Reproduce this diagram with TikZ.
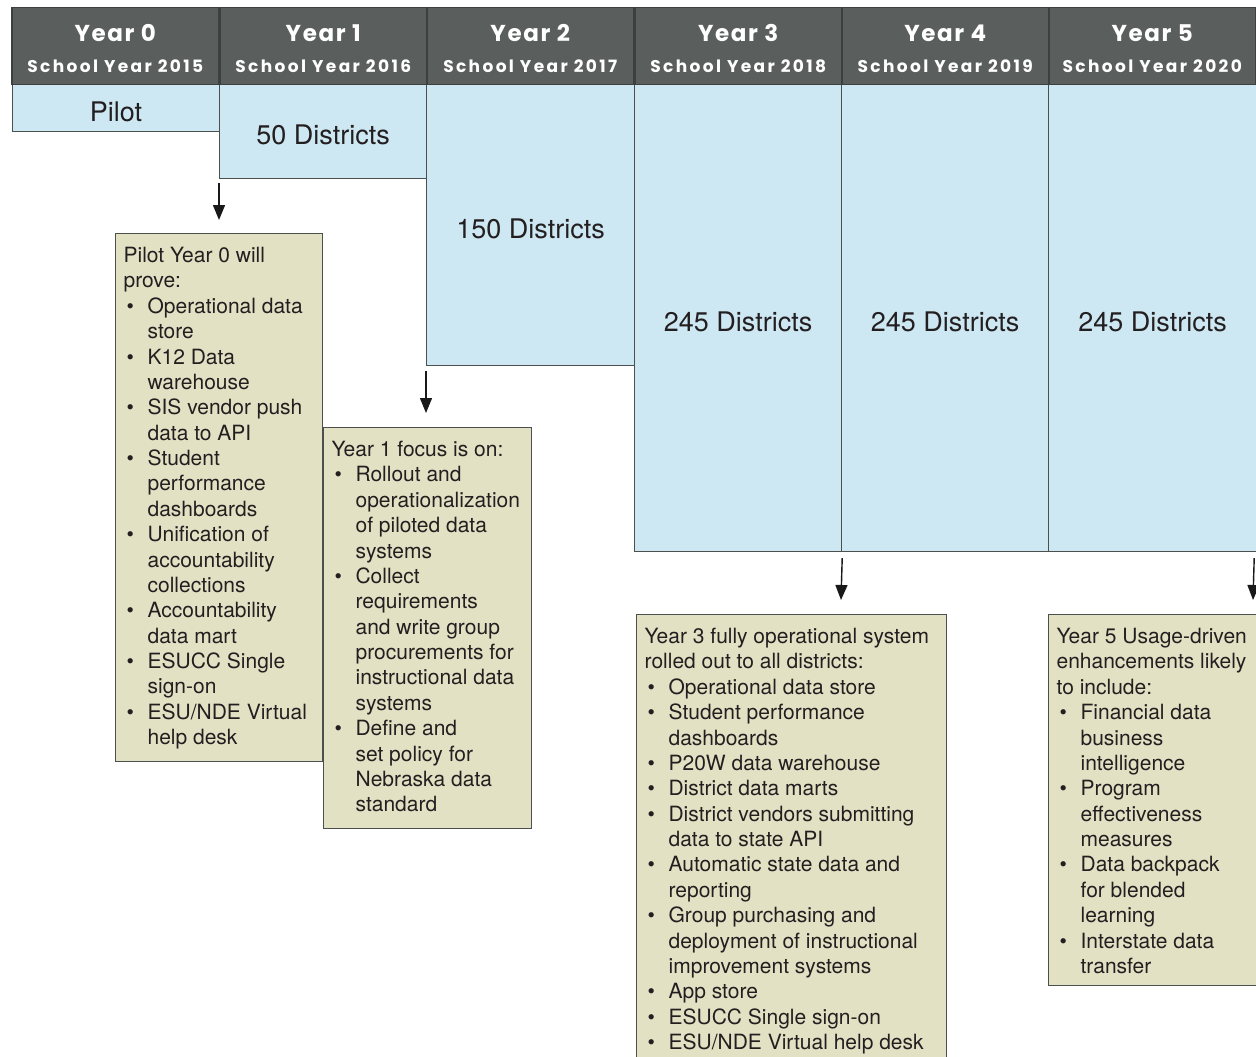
\documentclass[tikz,border=0pt]{standalone}
\usepackage{fontspec}
\setmainfont{TeX Gyre Heros}
\newfontfamily\hdrfont{Poppins}
\usetikzlibrary{arrows.meta}
\definecolor{hdrfill}{HTML}{5A5F5D}
\definecolor{hdrline}{HTML}{3D403F}
\definecolor{skyfill}{HTML}{CDE8F3}
\definecolor{boxline}{HTML}{4B504F}
\definecolor{tanfill}{HTML}{E3E1C4}
\definecolor{ink}{HTML}{231F20}
\newcommand\bl{\hspace*{3pt}\makebox[21pt][l]{\textbullet}}
\newcommand\cl{\hspace*{24pt}}
\newcommand\notetext[3]{\begin{minipage}[t][#2][t]{#1}\raggedright\leftskip=8pt\fontsize{21}{25.37}\selectfont\hyphenpenalty=10000\rule{0pt}{29pt}#3\par\end{minipage}}
\newcommand\hdrtext[2]{\parbox[t][77pt][t]{207pt}{\centering\fontsize{23}{31.3}\selectfont\addfontfeatures{LetterSpace=7}\rule{0pt}{33.7pt}#1\\\fontsize{17}{31.3}\selectfont\addfontfeatures{LetterSpace=14}#2\par}}
\newcommand\lowr[1]{\raisebox{-3.5pt}[\height][\depth]{#1}}
\begin{document}
\begin{tikzpicture}[x=1pt,y=-1pt,
  hdr/.style={draw=hdrline,fill=hdrfill,line width=1.5pt,inner sep=0pt,text=white,font=\hdrfont\bfseries,anchor=north west},
  sky/.style={draw=boxline,fill=skyfill,line width=1.2pt,inner sep=0pt,text=ink,font=\fontsize{27}{30}\selectfont,anchor=north west},
  note/.style={draw=boxline,fill=tanfill,line width=1.2pt,inner sep=0pt,text=ink,anchor=north west},
  arr/.style={line width=1.4pt,draw=black!90,-{Triangle[length=15pt,width=12pt]}}]
\clip (0,0) rectangle (1256,1057);
\fill[white] (0,0) rectangle (1256,1057);
% district boxes
\node[sky,minimum width=207pt,minimum height=47pt] (dp) at (12,84) {\lowr{Pilot}};
\node[sky,minimum width=207pt,minimum height=94pt] (d50) at (219,84) {\lowr{50 Districts}};
\node[sky,minimum width=208pt,minimum height=281pt] (d150) at (426,84) {\lowr{150 Districts}};
\node[sky,minimum width=207pt,minimum height=467pt] (d3) at (634,84) {\lowr{245 Districts}};
\node[sky,minimum width=207pt,minimum height=467pt] (d4) at (841,84) {\lowr{245 Districts}};
\node[sky,minimum width=208pt,minimum height=467pt] (d5) at (1048,84) {\lowr{245 Districts}};
% header
\node[hdr] (h0) at (11,7) {\hdrtext{Year 0}{School Year 2015}};
\node[hdr] (h1) at (219,7) {\hdrtext{Year 1}{School Year 2016}};
\node[hdr] (h2) at (426,7) {\hdrtext{Year 2}{School Year 2017}};
\node[hdr] (h3) at (634,7) {\hdrtext{Year 3}{School Year 2018}};
\node[hdr] (h4) at (841,7) {\hdrtext{Year 4}{School Year 2019}};
\node[hdr] (h5) at (1048,7) {\hdrtext{Year 5}{School Year 2020}};
% notes
\node[note] (n0) at (115,233) {\notetext{207pt}{528pt}{%
Pilot Year 0 will\\
prove:\\
\bl Operational data\\
\cl store\\
\bl K12 Data\\
\cl warehouse\\
\bl SIS vendor push\\
\cl data to API\\
\bl Student\\
\cl performance\\
\cl dashboards\\
\bl Unification of\\
\cl accountability\\
\cl collections\\
\bl Accountability\\
\cl data mart\\
\bl ESUCC Single\\
\cl sign-on\\
\bl ESU/NDE Virtual\\
\cl help desk}};
\node[note] (n1) at (323,427) {\notetext{208pt}{401pt}{%
Year 1 focus is on:\\
\bl Rollout and\\
\cl operationalization\\
\cl of piloted data\\
\cl systems\\
\bl Collect\\
\cl requirements\\
\cl and write group\\
\cl procurements for\\
\cl instructional data\\
\cl systems\\
\bl Define and\\
\cl set policy for\\
\cl Nebraska data\\
\cl standard}};
\node[note] (n3) at (636,614) {\notetext{310pt}{460pt}{%
Year 3 fully operational system\\
rolled out to all districts:\\
\bl Operational data store\\
\bl Student performance\\
\cl dashboards\\
\bl P20W data warehouse\\
\bl District data marts\\
\bl District vendors submitting\\
\cl data to state API\\
\bl Automatic state data and\\
\cl reporting\\
\bl Group purchasing and\\
\cl deployment of instructional\\
\cl improvement systems\\
\bl App store\\
\bl ESUCC Single sign-on\\
\bl ESU/NDE Virtual help desk}};
\node[note] (n5) at (1048,614) {\notetext{208pt}{371pt}{%
Year 5 Usage-driven\\
enhancements likely\\
to include:\\
\bl Financial data\\
\cl business\\
\cl intelligence\\
\bl Program\\
\cl effectiveness\\
\cl measures\\
\bl Data backpack\\
\cl for blended\\
\cl learning\\
\bl Interstate data\\
\cl transfer}};
% arrow targets
\coordinate (e0) at (219,220);
\coordinate (e1) at (426,413);
\coordinate (e3) at (841,600);
\coordinate (e5) at (1253,600);
\draw[arr] ([yshift=-4pt]d50.south west) -- (e0);
\draw[arr] ([yshift=-5pt]d150.south west) -- (e1);
\draw[arr] ([yshift=-6pt]d3.south east) -- (e3);
\draw[arr] ([xshift=-3pt,yshift=-6pt]d5.south east) -- (e5);
\end{tikzpicture}
\end{document}
